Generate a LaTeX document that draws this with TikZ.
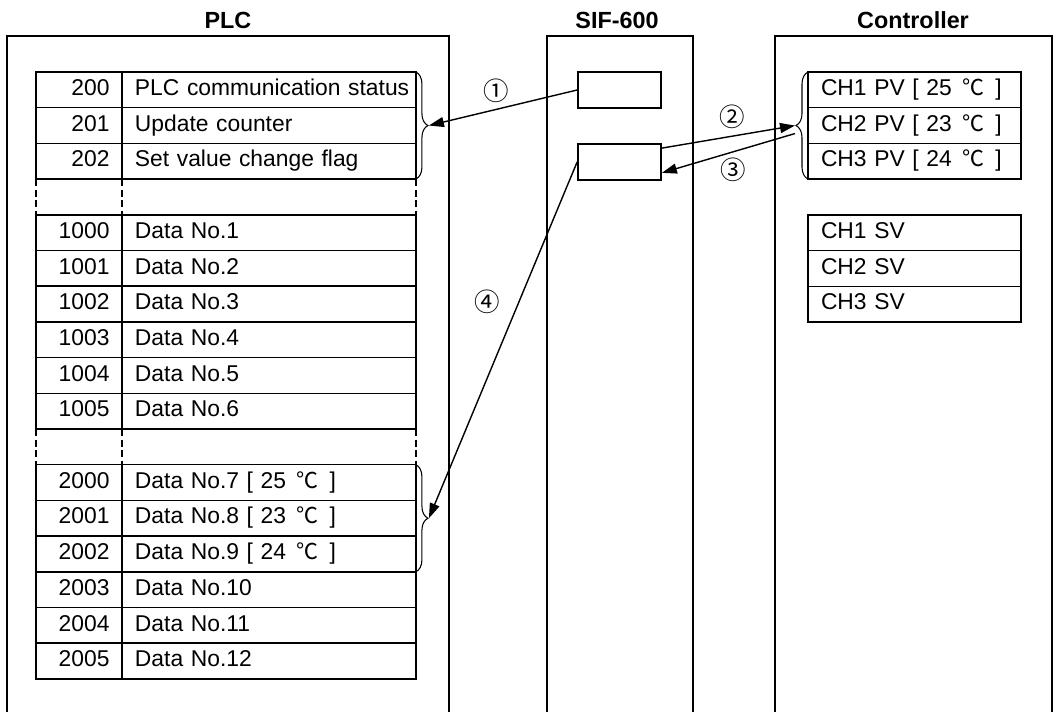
\documentclass[tikz,border=0pt]{standalone}
\usepackage{fontspec}
\setmainfont{Liberation Sans}
\newfontfamily\cjk{Noto Sans CJK JP}
\newcommand\degc{\hspace{0.45em}{\cjk\fontsize{12.5}{14}\selectfont ℃}\hspace{0.5em}}
\usetikzlibrary{arrows.meta, positioning, decorations.pathreplacing}

\begin{document}
\begin{tikzpicture}[
    x=0.02cm, y=-0.02cm,
    frame/.style={line width=1pt},
    title/.style={font=\bfseries\fontsize{13.3}{15}\selectfont},
    cell/.style={draw,line width=0.85pt,outer sep=0pt,minimum height=0.714cm,inner ysep=0pt,text height=9.5pt,text depth=3pt,font=\fontsize{13}{15}\selectfont},
    numcell/.style={cell,anchor=north west,text width=1.22cm,inner xsep=0.25cm,align=right},
    txtcell/.style={cell,text width=5.36cm,inner xsep=0.26cm,align=left},
    chcell/.style={cell,anchor=north west,text width=3.74cm,inner xsep=0.26cm,align=left},
    sifbox/.style={draw,line width=1pt,minimum width=1.66cm,minimum height=0.72cm},
    gap/.style={line width=0.85pt,dash pattern=on 4pt off 2pt},
    grpbrace/.style={decorate,decoration={brace,amplitude=0.24cm},line width=0.6pt},
    link/.style={-{Triangle[length=0.3cm,width=0.2cm]},line width=0.8pt},
    stepno/.style={font=\cjk\fontsize{14.5}{16}\selectfont}
  ]
    \useasboundingbox (0,0) rectangle (1055,712);

    % frames
    \node[title] (plc) at (228,20) {PLC};
    \node[title] (sif) at (617,20) {SIF-600};
    \node[title] (ctl) at (913,20) {Controller};
    \draw[frame] (7,712) |- (449,36) -- (449,712);
    \draw[frame] (547,712) |- (693,36) -- (693,712);
    \draw[frame] (775,712) |- (1052,36) -- (1052,712);

    % PLC register table
    \foreach \ri/\addr/\desc in {0/200/PLC communication status, 1/201/Update counter, 2/202/Set value change flag,
        4/1000/Data No.1, 5/1001/Data No.2, 6/1002/Data No.3, 7/1003/Data No.4, 8/1004/Data No.5, 9/1005/Data No.6,
        11/2000/Data No.7 [ 25\degc], 12/2001/Data No.8 [ 23\degc], 13/2002/Data No.9 [ 24\degc],
        14/2003/Data No.10, 15/2004/Data No.11, 16/2005/Data No.12} {
      \node[numcell] (n\ri) at (36,{72+35.7*\ri}) {\addr};
      \node[txtcell, right=0pt of n\ri] (t\ri) {\mbox{\desc}};
    }
    \foreach \a/\b in {2/4, 9/11} {
      \draw[gap] (n\a.south west) -- (n\b.north west);
      \draw[gap] (n\a.south east) -- (n\b.north east);
      \draw[gap] (t\a.south east) -- (t\b.north east);
    }

    % SIF-600
    \node[sifbox] (s1) at (619.5,90) {};
    \node[sifbox] (s2) at (619.5,162) {};

    % controller
    \foreach \ri/\desc in {0/CH1 PV [ 25\degc], 1/CH2 PV [ 23\degc], 2/CH3 PV [ 24\degc]}
      \node[chcell] (pv\ri) at (808,{72+35.7*\ri}) {\mbox{\desc}};
    \foreach \ri in {1,2,3}
      \node[chcell] (sv\ri) at (808,{215+35.7*(\ri-1)}) {CH\ri\ SV};

    % braces
    \draw[grpbrace] (t0.north east) -- (t2.south east);
    \draw[grpbrace] (t11.north east) -- (t13.south east);
    \draw[grpbrace] (pv2.south west) -- (pv0.north west);
    \coordinate (tipA) at ([xshift=0.26cm]t1.east);
    \coordinate (tipB) at ([xshift=0.26cm]t12.east);
    \coordinate (tipC) at ([xshift=-0.26cm]pv1.west);

    % transfers
    \draw[link] (s1.west) -- (tipA);
    \draw[link] ([yshift=-0.1cm]s2.north east) -- (tipC);
    \draw[link] ([yshift=-0.16cm]tipC) -- ([yshift=0.16cm]s2.south east);
    \draw[link] (s2.west) -- (tipB);
    \node[stepno] (l1) at (496,91) {①};
    \node[stepno] (l2) at (732,117) {②};
    \node[stepno] (l3) at (733,170) {③};
    \node[stepno] (l4) at (487,302) {④};
  \end{tikzpicture}
\end{document}
